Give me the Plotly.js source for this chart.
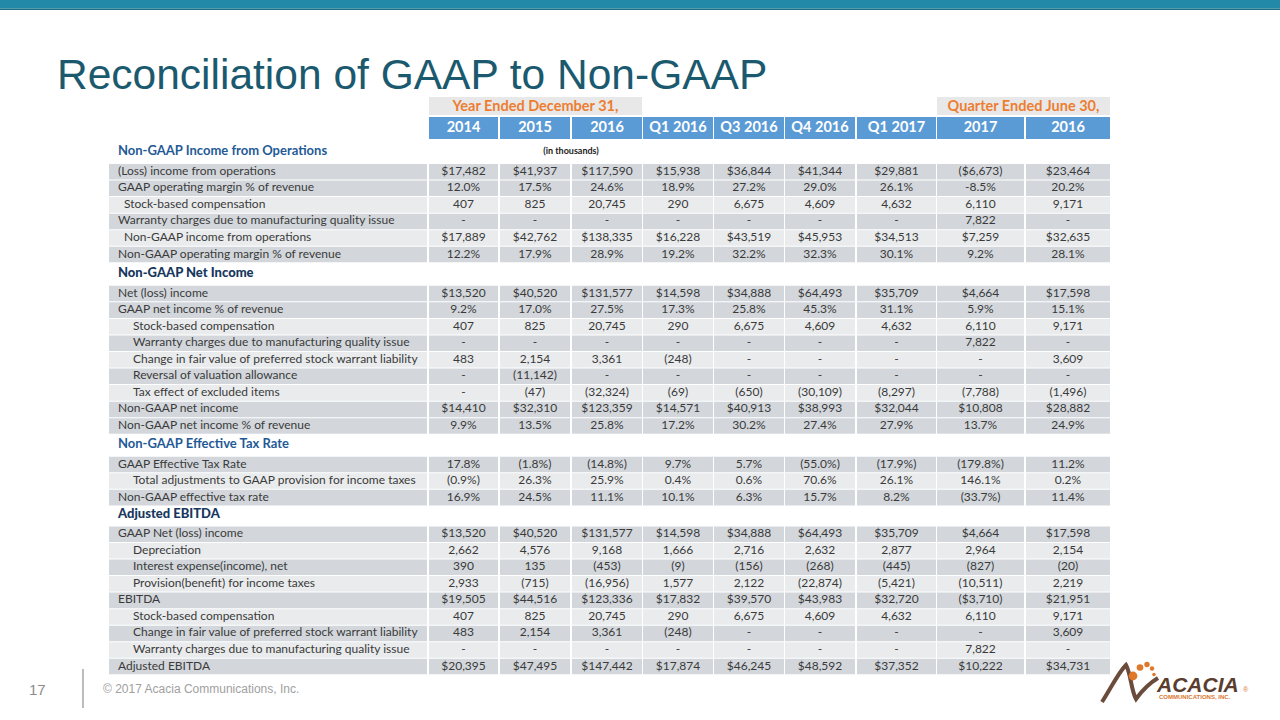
<!DOCTYPE html>
<html>
<head>
<meta charset="utf-8">
<script src="https://cdn.plot.ly/plotly-3.0.1.min.js"></script>
<style>
  html, body { margin: 0; padding: 0; background: #ffffff; }
  #chart { width: 1280px; height: 720px; }
</style>
</head>
<body>
<div id="chart"></div>
<script>
// ---------------- DATA ----------------
const pageTitle = 'Reconciliation of GAAP to Non-GAAP';
const columns = ['2014', '2015', '2016', 'Q1 2016', 'Q3 2016', 'Q4 2016', 'Q1 2017', '2017', '2016'];
const groupHeaders = ['Year Ended December 31,', 'Quarter Ended June 30,'];
const groupFirstCol = [0, 7];
const groupLastCol = [2, 8];
const unitNote = '(in thousands)';

const opsTitle = 'Non-GAAP Income from Operations';
const opsLabels = [
  '(Loss) income from operations',
  'GAAP operating margin % of revenue',
  'Stock-based compensation',
  'Warranty charges due to manufacturing quality issue',
  'Non-GAAP income from operations',
  'Non-GAAP operating margin % of revenue'
];
const opsLevels = [0, 0, 1, 0, 1, 0];
const opsValues = [
  ['$17,482', '$41,937', '$117,590', '$15,938', '$36,844', '$41,344', '$29,881', '($6,673)', '$23,464'],
  ['12.0%', '17.5%', '24.6%', '18.9%', '27.2%', '29.0%', '26.1%', '-8.5%', '20.2%'],
  ['407', '825', '20,745', '290', '6,675', '4,609', '4,632', '6,110', '9,171'],
  ['-', '-', '-', '-', '-', '-', '-', '7,822', '-'],
  ['$17,889', '$42,762', '$138,335', '$16,228', '$43,519', '$45,953', '$34,513', '$7,259', '$32,635'],
  ['12.2%', '17.9%', '28.9%', '19.2%', '32.2%', '32.3%', '30.1%', '9.2%', '28.1%']
];

const netTitle = 'Non-GAAP Net Income';
const netLabels = [
  'Net (loss) income',
  'GAAP net income % of revenue',
  'Stock-based compensation',
  'Warranty charges due to manufacturing quality issue',
  'Change in fair value of preferred stock warrant liability',
  'Reversal of valuation allowance',
  'Tax effect of excluded items',
  'Non-GAAP net income',
  'Non-GAAP net income % of revenue'
];
const netLevels = [0, 0, 2, 2, 2, 2, 2, 0, 0];
const netValues = [
  ['$13,520', '$40,520', '$131,577', '$14,598', '$34,888', '$64,493', '$35,709', '$4,664', '$17,598'],
  ['9.2%', '17.0%', '27.5%', '17.3%', '25.8%', '45.3%', '31.1%', '5.9%', '15.1%'],
  ['407', '825', '20,745', '290', '6,675', '4,609', '4,632', '6,110', '9,171'],
  ['-', '-', '-', '-', '-', '-', '-', '7,822', '-'],
  ['483', '2,154', '3,361', '(248)', '-', '-', '-', '-', '3,609'],
  ['-', '(11,142)', '-', '-', '-', '-', '-', '-', '-'],
  ['-', '(47)', '(32,324)', '(69)', '(650)', '(30,109)', '(8,297)', '(7,788)', '(1,496)'],
  ['$14,410', '$32,310', '$123,359', '$14,571', '$40,913', '$38,993', '$32,044', '$10,808', '$28,882'],
  ['9.9%', '13.5%', '25.8%', '17.2%', '30.2%', '27.4%', '27.9%', '13.7%', '24.9%']
];

const taxTitle = 'Non-GAAP Effective Tax Rate';
const taxLabels = [
  'GAAP Effective Tax Rate',
  'Total adjustments to GAAP provision for income taxes',
  'Non-GAAP effective tax rate'
];
const taxLevels = [0, 2, 0];
const taxValues = [
  ['17.8%', '(1.8%)', '(14.8%)', '9.7%', '5.7%', '(55.0%)', '(17.9%)', '(179.8%)', '11.2%'],
  ['(0.9%)', '26.3%', '25.9%', '0.4%', '0.6%', '70.6%', '26.1%', '146.1%', '0.2%'],
  ['16.9%', '24.5%', '11.1%', '10.1%', '6.3%', '15.7%', '8.2%', '(33.7%)', '11.4%']
];

const ebitdaTitle = 'Adjusted EBITDA';
const ebitdaLabels = [
  'GAAP Net (loss) income',
  'Depreciation',
  'Interest expense(income), net',
  'Provision(benefit) for income taxes',
  'EBITDA',
  'Stock-based compensation',
  'Change in fair value of preferred stock warrant liability',
  'Warranty charges due to manufacturing quality issue',
  'Adjusted EBITDA'
];
const ebitdaLevels = [0, 2, 2, 2, 0, 2, 2, 2, 0];
const ebitdaValues = [
  ['$13,520', '$40,520', '$131,577', '$14,598', '$34,888', '$64,493', '$35,709', '$4,664', '$17,598'],
  ['2,662', '4,576', '9,168', '1,666', '2,716', '2,632', '2,877', '2,964', '2,154'],
  ['390', '135', '(453)', '(9)', '(156)', '(268)', '(445)', '(827)', '(20)'],
  ['2,933', '(715)', '(16,956)', '1,577', '2,122', '(22,874)', '(5,421)', '(10,511)', '2,219'],
  ['$19,505', '$44,516', '$123,336', '$17,832', '$39,570', '$43,983', '$32,720', '($3,710)', '$21,951'],
  ['407', '825', '20,745', '290', '6,675', '4,609', '4,632', '6,110', '9,171'],
  ['483', '2,154', '3,361', '(248)', '-', '-', '-', '-', '3,609'],
  ['-', '-', '-', '-', '-', '-', '-', '7,822', '-'],
  ['$20,395', '$47,495', '$147,442', '$17,874', '$46,245', '$48,592', '$37,352', '$10,222', '$34,731']
];

const footerPage = '17';
const footerText = '\u00A9 2017 Acacia Communications, Inc.';

// ---------------- LAYOUT / STYLE ----------------
const FONT = 'Lato, "Open Sans", sans-serif';
const TXT = '#3a3a3a';
const DARK = '#d3d7dc';
const LIGHT = '#e9ebed';
const BLUE = '#5b9bd5';
const ORANGE = '#ed7d31';
const BAND = '#e8e8e8';

const COL_LEFT  = [429, 500, 572, 643, 714, 785, 857, 937, 1026];
const COL_RIGHT = [498, 570, 642, 713, 784, 855, 936, 1024, 1110];
const LABEL_LEFT = 109, LABEL_RIGHT = 427;
const INDENT_X = [118, 124, 133];
const ROW_H = 16.55;
const BAND_TOP = 97, BAND_BOT = 115;
const HEAD_TOP = 117, HEAD_BOT = 139;
const SECTION_H = [24, 22.5, 22, 20];
const SECTION_STYLE = [
  {color: '#1f5a96', weight: 700, size: 13},
  {color: '#17375e', weight: 900, size: 13},
  {color: '#1f5a96', weight: 700, size: 13},
  {color: '#17375e', weight: 900, size: 13}
];

const sections = [
  {title: opsTitle, labels: opsLabels, levels: opsLevels, values: opsValues},
  {title: netTitle, labels: netLabels, levels: netLevels, values: netValues},
  {title: taxTitle, labels: taxLabels, levels: taxLevels, values: taxValues},
  {title: ebitdaTitle, labels: ebitdaLabels, levels: ebitdaLevels, values: ebitdaValues}
];

const shapes = [];
const colCenter = COL_LEFT.map((l, i) => (l + COL_RIGHT[i]) / 2);

// top bar
shapes.push({type: 'rect', xref: 'x', yref: 'y', x0: 0, x1: 1280, y0: 0, y1: 8.5, fillcolor: '#2389a8', line: {width: 0}, layer: 'below'});
shapes.push({type: 'rect', xref: 'x', yref: 'y', x0: 0, x1: 1280, y0: 8.5, y1: 10, fillcolor: '#1c6f84', line: {width: 0}, layer: 'below'});

// group header bands
groupHeaders.forEach((g, i) => {
  shapes.push({type: 'rect', xref: 'x', yref: 'y', x0: COL_LEFT[groupFirstCol[i]], x1: COL_RIGHT[groupLastCol[i]],
    y0: BAND_TOP, y1: BAND_BOT, fillcolor: BAND, line: {width: 0}, layer: 'below'});
});
// blue header cells
columns.forEach((c, i) => {
  shapes.push({type: 'rect', xref: 'x', yref: 'y', x0: COL_LEFT[i], x1: COL_RIGHT[i],
    y0: HEAD_TOP, y1: HEAD_BOT, fillcolor: BLUE, line: {width: 0}, layer: 'below'});
});

// rows
const labelX = [], labelY = [], labelT = [];
const valX = [], valY = [], valT = [];
const secX = [[], []], secY = [[], []], secT = [[], []];
let curTop = HEAD_BOT;
sections.forEach((s, si) => {
  const blockTop = curTop + SECTION_H[si];
  const grp = SECTION_STYLE[si].weight > 800 ? 1 : 0;
  secX[grp].push(INDENT_X[0]);
  secY[grp].push(blockTop - 11);
  secT[grp].push(s.title);
  let alt = 0;
  s.labels.forEach((lab, ri) => {
    const y0 = blockTop + ri * ROW_H;
    const lvl = s.levels[ri];
    let fill;
    if (lvl === 0) { fill = DARK; alt = 0; }
    else { fill = (alt % 2 === 0) ? LIGHT : DARK; alt++; }
    shapes.push({type: 'rect', xref: 'x', yref: 'y', x0: LABEL_LEFT, x1: LABEL_RIGHT,
      y0: y0 + 1, y1: y0 + ROW_H, fillcolor: fill, line: {width: 0}, layer: 'below'});
    COL_LEFT.forEach((l, ci) => {
      shapes.push({type: 'rect', xref: 'x', yref: 'y', x0: l, x1: COL_RIGHT[ci],
        y0: y0 + 1, y1: y0 + ROW_H, fillcolor: fill, line: {width: 0}, layer: 'below'});
    });
    const yc = y0 + ROW_H / 2 + 0.5;
    labelX.push(INDENT_X[lvl]); labelY.push(yc); labelT.push(lab);
    s.values[ri].forEach((v, ci) => { valX.push(colCenter[ci]); valY.push(yc); valT.push(v); });
  });
  curTop = blockTop + s.labels.length * ROW_H;
});

// footer divider line
shapes.push({type: 'line', xref: 'x', yref: 'y', x0: 83, x1: 83, y0: 669, y1: 708, line: {color: '#a6a6a6', width: 1.5}});

// logo swoosh
shapes.push({type: 'path', xref: 'x', yref: 'y',
  path: 'M1102,702 C1110,690 1118,673 1126,665 C1131,674 1131,690 1136,699 C1141,692 1148,684 1158,678',
  line: {color: '#6b4b3b', width: 4}});
const dots = [[1133, 676, 4.4], [1140, 667.5, 3.3], [1147, 664.5, 2.7], [1152, 668.5, 2.2], [1154, 674.5, 1.8]];
dots.forEach(d => shapes.push({type: 'circle', xref: 'x', yref: 'y', x0: d[0] - d[2], x1: d[0] + d[2],
  y0: d[1] - d[2], y1: d[1] + d[2], fillcolor: '#e0782a', line: {width: 0}}));

const base = {type: 'scatter', mode: 'text', hoverinfo: 'skip', showlegend: false, cliponaxis: false};
const traces = [
  Object.assign({}, base, {x: labelX, y: labelY, text: labelT, textposition: 'middle right',
    textfont: {family: FONT, size: 12, color: TXT}}),
  Object.assign({}, base, {x: valX, y: valY, text: valT, textposition: 'middle center',
    textfont: {family: FONT, size: 12, color: TXT}}),
  Object.assign({}, base, {x: secX[0], y: secY[0], text: secT[0], textposition: 'middle right',
    textfont: {family: FONT, size: SECTION_STYLE[0].size, color: SECTION_STYLE[0].color, weight: SECTION_STYLE[0].weight}}),
  Object.assign({}, base, {x: secX[1], y: secY[1], text: secT[1], textposition: 'middle right',
    textfont: {family: FONT, size: SECTION_STYLE[1].size, color: SECTION_STYLE[1].color, weight: SECTION_STYLE[1].weight}}),
  Object.assign({}, base, {x: colCenter, y: columns.map(() => (HEAD_TOP + HEAD_BOT) / 2 + 0.5), text: columns,
    textposition: 'middle center', textfont: {family: FONT, size: 14.5, color: '#ffffff', weight: 700}}),
  Object.assign({}, base, {
    x: groupHeaders.map((g, i) => (COL_LEFT[groupFirstCol[i]] + COL_RIGHT[groupLastCol[i]]) / 2),
    y: groupHeaders.map(() => (BAND_TOP + BAND_BOT) / 2 + 1), text: groupHeaders,
    textposition: 'middle center', textfont: {family: FONT, size: 14.5, color: ORANGE, weight: 700}}),
  Object.assign({}, base, {x: [(COL_RIGHT[1] + COL_LEFT[2]) / 2], y: [HEAD_BOT + 13], text: [unitNote],
    textposition: 'middle center', textfont: {family: FONT, size: 9, color: '#222222', weight: 700}})
];

const annotations = [
  {xref: 'x', yref: 'y', x: 55, y: 74, xanchor: 'left', yanchor: 'middle', showarrow: false,
    text: pageTitle, font: {family: '"Liberation Sans", Arial, sans-serif', size: 42.5, color: '#1b5a6e'}},
  {xref: 'x', yref: 'y', x: 37, y: 689, xanchor: 'center', yanchor: 'middle', showarrow: false,
    text: footerPage, font: {family: '"Liberation Sans", Arial, sans-serif', size: 15, color: '#8c8c8c'}},
  {xref: 'x', yref: 'y', x: 101, y: 689, xanchor: 'left', yanchor: 'middle', showarrow: false,
    text: footerText, font: {family: '"Liberation Sans", Arial, sans-serif', size: 12, color: '#a0a0a0'}},
  {xref: 'x', yref: 'y', x: 1154, y: 684, xanchor: 'left', yanchor: 'middle', showarrow: false,
    text: '<b><i>ACACIA</i></b>', font: {family: '"Liberation Sans", Arial, sans-serif', size: 21, color: '#5a3d2e'}},
  {xref: 'x', yref: 'y', x: 1157, y: 697, xanchor: 'left', yanchor: 'middle', showarrow: false,
    text: '<b>COMMUNICATIONS, INC.</b>', font: {family: '"Liberation Sans", Arial, sans-serif', size: 6, color: '#d9772f'}},
  {xref: 'x', yref: 'y', x: 1241, y: 689, xanchor: 'left', yanchor: 'middle', showarrow: false,
    text: '\u00AE', font: {family: '"Liberation Sans", Arial, sans-serif', size: 7, color: '#d9772f'}}
];

const layout = {
  width: 1280, height: 720,
  margin: {l: 0, r: 0, t: 0, b: 0, pad: 0},
  paper_bgcolor: '#ffffff', plot_bgcolor: '#ffffff',
  xaxis: {range: [0, 1280], visible: false, fixedrange: true},
  yaxis: {range: [720, 0], visible: false, fixedrange: true},
  shapes: shapes,
  annotations: annotations,
  showlegend: false
};

Plotly.newPlot('chart', traces, layout, {staticPlot: true, displayModeBar: false});
</script>
</body>
</html>
